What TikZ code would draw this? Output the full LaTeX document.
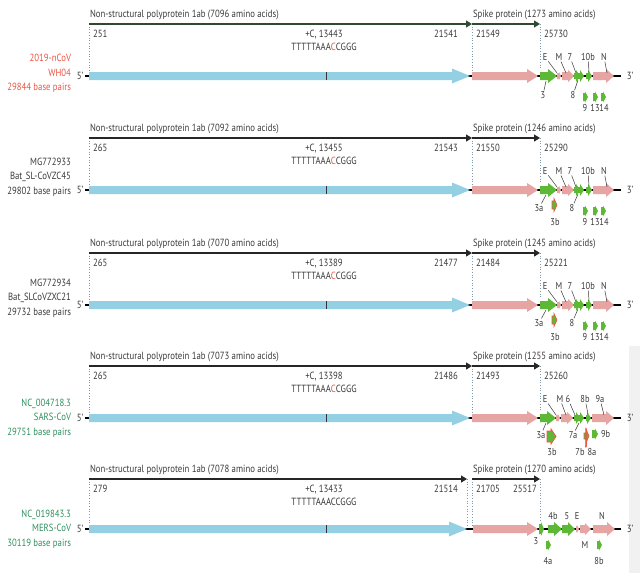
\documentclass[tikz,border=0pt]{standalone}
\usepackage{fontspec}
\setmainfont{PT Sans}[FakeStretch=0.84]
\usetikzlibrary{arrows.meta}
\definecolor{cblue}{HTML}{93D0E4}
\definecolor{cpink}{HTML}{E6A4A2}
\definecolor{cgreen}{HTML}{5DB935}
\definecolor{cred}{HTML}{EE5444}
\definecolor{cgtext}{HTML}{2F8F5E}
\definecolor{cdot}{HTML}{7C9AAA}
\definecolor{cline1}{HTML}{2E4A30}
\definecolor{cline}{HTML}{262626}
\definecolor{ctext}{HTML}{3A3A3A}
\definecolor{cstrip}{HTML}{F1F1F1}
\newcommand{\gene}[7]{\fill[#7] (#1,#3-#4) -- (#2-#6,#3-#4) -- (#2-#6,#3-#5) -- (#2,#3) -- (#2-#6,#3+#5) -- (#2-#6,#3+#4) -- (#1,#3+#4) -- cycle;}
\newcommand{\lab}[6]{\node[glbl] (#1) at (#2,#3) {#4}; \coordinate (#1t) at (#5,#6); \draw[lead] (#1) -- (#1t);}
\newcommand{\labn}[4]{\node[glbl] (#1) at (#2,#3) {#4};}
\newcommand{\seqtxt}{TTTTTAAA\textcolor{cred}{C}CGGG}
\newcommand{\toppart}[9]{%
 \coordinate (#1a0) at (89,24);
 \coordinate (#1a1) at (472,24);
 \coordinate (#1b1) at (540,24);
 \node[lbl,anchor=base west] (#1nsp) at (89,17) {Non-structural polyprotein 1ab (#3 amino acids)};
 \node[lbl,anchor=base west] (#1spk) at (472,17) {Spike protein (#4 amino acids)};
 \draw[dotln] (#1a0) -- ++(0,48);
 \draw[dotln] (#1a1) -- ++(0,48);
 \draw[dotln] (#1b1) -- ++(0,45);
 \draw[topln,#2] (#1a0) -- (#1a1);
 \draw[topln,#2] (#1a1) -- (#1b1);
 \node[lbl,anchor=base west] (#1n0) at (92,37) {#5};
 \node[lbl,anchor=base] (#1nc) at (324,37) {+C, #6};
 \node[lbl,anchor=base] (#1seq) at (324,50) {\seqtxt};
 \node[lbl,anchor=base east] (#1n1) at (459,37) {#7};
 \node[lbl,anchor=base west] (#1n2) at (475,37) {#8};
 \node[lbl,anchor=base west] (#1n3) at (543,37) {#9};
 \draw[bb] (85,76) -- (89,76);
 \draw[bb] (466,76) -- (621,76);
 \gene{89}{470}{76}{4}{7.5}{18}{cblue}
 \draw[line width=0.8pt,black!80] (326,72) -- (326,80);
 \gene{472}{538}{76}{4}{7}{11}{cpink}
 \node[lbl] (#1five) at (80,76) {5’};
 \node[lbl] (#1three) at (630,76) {3’};
}
\begin{document}
\begin{tikzpicture}[x=1pt,y=-1pt,
  every node/.style={inner sep=0pt,outer sep=1pt},
  lbl/.style={font=\fontsize{10.4}{12}\selectfont,text=ctext},
  glbl/.style={font=\fontsize{10}{11}\selectfont,text=ctext},
  namelbl/.style={font=\fontsize{10.4}{14.5}\selectfont,align=right,anchor=east},
  topln/.style={line width=1.2pt,-{Triangle[length=6pt,width=7pt]}},
  dotln/.style={cdot,dotted,line width=0.7pt},
  lead/.style={ctext,line width=0.5pt},
  redlead/.style={cred,line width=0.7pt},
  bb/.style={line width=1.6pt,black}]
\useasboundingbox (0,0) rectangle (640,573);
\fill[white] (0,0) rectangle (640,573);
\fill[cstrip] (629,346) rectangle (640,573);

% ---------- Panel 1: 2019-nCoV
\begin{scope}
\toppart{p1}{cline1}{7096}{1273}{251}{13443}{21541}{21549}{25730}
\node[namelbl,text=cred] (p1name) at (72,73.5) {2019-nCoV\\WH04\\29844 base pairs};
\gene{540}{557}{76}{4}{7}{9}{cgreen}
\gene{557}{561}{76}{3}{4}{2}{cpink}
\gene{562}{574}{76}{4}{6}{6}{cpink}
\gene{574}{580}{76}{3}{6}{4}{cgreen}
\gene{578}{584}{76}{3}{6}{4}{cgreen}
\gene{586}{592}{76}{3}{6}{4}{cgreen}
\gene{593}{614}{76}{4}{7}{8}{cpink}
\lab{p1E}{545}{57}{E}{557}{73}
\lab{p1M}{559}{57}{M}{566}{73}
\lab{p1g7}{570}{57}{7}{576}{73}
\lab{p1g10}{588}{57}{10b}{589}{72}
\lab{p1N}{604}{57}{N}{607}{73}
\lab{p1g3}{543}{95}{3}{546}{81}
\lab{p1g8}{573}{95}{8}{578}{80}
\gene{583}{588}{97}{4}{5.5}{3}{cgreen}
\gene{593}{598}{97}{4}{5.5}{3}{cgreen}
\gene{601}{606}{97}{4}{5.5}{3}{cgreen}
\labn{p1g9}{585}{108}{9}
\labn{p1g13}{595}{108}{13}
\labn{p1g14}{604}{108}{14}
\end{scope}

% ---------- Panel 2: ZC45
\begin{scope}[shift={(0,114)}]
\toppart{p2}{cline}{7092}{1246}{265}{13455}{21543}{21550}{25290}
\node[namelbl,text=ctext] (p2name) at (72,63) {MG772933\\Bat\_SL-CoVZC45\\29802 base pairs};
\gene{540}{557}{76}{4}{7}{9}{cgreen}
\gene{557}{561}{76}{3}{4}{2}{cpink}
\gene{562}{574}{76}{4}{6}{6}{cpink}
\gene{574}{580}{76}{3}{6}{4}{cgreen}
\gene{578}{584}{76}{3}{6}{4}{cgreen}
\gene{586}{592}{76}{3}{6}{4}{cgreen}
\gene{593}{614}{76}{4}{7}{8}{cpink}
\lab{p2E}{545}{57}{E}{557}{73}
\lab{p2M}{559}{57}{M}{566}{73}
\lab{p2g7}{570}{57}{7}{576}{73}
\lab{p2g10}{588}{57}{10b}{589}{72}
\lab{p2N}{604}{57}{N}{607}{73}
\lab{p2g3}{539}{94}{3a}{546}{81}
\gene{552}{557}{91}{4}{6.5}{3}{fill=cgreen,draw=cred,line width=0.6pt}
\labn{p2g3b}{555}{108}{3b}
\lab{p2g8}{572}{94}{8}{578}{80}
\gene{583}{588}{97}{4}{5.5}{3}{cgreen}
\gene{593}{598}{97}{4}{5.5}{3}{cgreen}
\gene{601}{606}{97}{4}{5.5}{3}{cgreen}
\labn{p2g9}{585}{108}{9}
\labn{p2g13}{595}{108}{13}
\labn{p2g14}{604}{108}{14}
\end{scope}

% ---------- Panel 3: ZXC21
\begin{scope}[shift={(0,229)}]
\toppart{p3}{cline}{7070}{1245}{265}{13389}{21477}{21484}{25221}
\node[namelbl,text=ctext] (p3name) at (72,69) {MG772934\\Bat\_SLCoVZXC21\\29732 base pairs};
\gene{540}{557}{76}{4}{7}{9}{cgreen}
\gene{557}{561}{76}{3}{4}{2}{cpink}
\gene{562}{574}{76}{4}{6}{6}{cpink}
\gene{574}{580}{76}{3}{6}{4}{cgreen}
\gene{578}{584}{76}{3}{6}{4}{cgreen}
\gene{586}{592}{76}{3}{6}{4}{cgreen}
\gene{593}{614}{76}{4}{7}{8}{cpink}
\lab{p3E}{545}{57}{E}{557}{73}
\lab{p3M}{559}{57}{M}{566}{73}
\lab{p3g7}{570}{57}{7}{576}{73}
\lab{p3g10}{588}{57}{10b}{589}{72}
\lab{p3N}{604}{57}{N}{607}{73}
\lab{p3g3}{539}{94}{3a}{546}{81}
\gene{552}{557}{91}{4}{6.5}{3}{fill=cgreen,draw=cred,line width=0.6pt}
\labn{p3g3b}{555}{108}{3b}
\lab{p3g8}{572}{94}{8}{578}{80}
\gene{583}{588}{97}{4}{5.5}{3}{cgreen}
\gene{593}{598}{97}{4}{5.5}{3}{cgreen}
\gene{601}{606}{97}{4}{5.5}{3}{cgreen}
\labn{p3g9}{585}{108}{9}
\labn{p3g13}{595}{108}{13}
\labn{p3g14}{604}{108}{14}
\end{scope}

% ---------- Panel 4: SARS-CoV
\begin{scope}[shift={(0,342)}]
\toppart{p4}{cline}{7073}{1255}{265}{13398}{21486}{21493}{25260}
\node[namelbl,text=cgtext] (p4name) at (72,76) {NC\_004718.3\\SARS-CoV\\29751 base pairs};
\gene{540}{556}{76}{4}{7}{9}{cgreen}
\gene{556}{560}{76}{3}{4}{2}{cpink}
\gene{561}{573}{76}{4}{6}{6}{cpink}
\gene{574}{580}{76}{3}{6}{4}{cgreen}
\gene{578}{584}{76}{3}{6}{4}{cgreen}
\gene{586}{591}{76}{3}{6}{4}{cgreen}
\gene{592}{614}{76}{4}{7}{8}{cpink}
\lab{p4E}{545}{57}{E}{556}{73}
\lab{p4M}{560}{57}{M}{566}{73}
\lab{p4g6}{568}{57}{6}{575}{73}
\lab{p4g8b}{585}{57}{8b}{588}{72}
\lab{p4g9a}{600}{57}{9a}{604}{73}
\lab{p4g3a}{541}{93}{3a}{546}{81}
\gene{547}{556}{94.5}{5.5}{7.5}{5}{fill=cgreen,draw=cred,line width=0.7pt}
\labn{p4g3b}{552}{110}{3b}
\lab{p4g7a}{573}{93}{7a}{579}{81}
\gene{584}{589}{94}{3}{7}{3}{fill=cgreen,draw=cred,line width=0.6pt}
\node[glbl] (p4g7b) at (580,110) {7b};
\node[glbl] (p4g8a) at (592,110) {8a};
\coordinate (p4rt) at (586,86);
\draw[redlead] (p4g7b.north east) -- (p4rt);
\draw[redlead] (p4g8a.north west) -- (p4rt);
\gene{592}{598}{92}{4}{5.5}{3}{cgreen}
\node[glbl,anchor=west] (p4g9b) at (600,92) {9b};
\end{scope}

% ---------- Panel 5: MERS-CoV
\begin{scope}[shift={(0,454)}]
\renewcommand{\seqtxt}{TTTTTAAACCGGG}
\coordinate (p5a0) at (89,25);
\coordinate (p5a1) at (467,25);
\coordinate (p5b0) at (472,25);
\coordinate (p5b1) at (540,25);
\node[lbl,anchor=base west] (p5nsp) at (89,18) {Non-structural polyprotein 1ab (7078 amino acids)};
\node[lbl,anchor=base west] (p5spk) at (472,18) {Spike protein (1270 amino acids)};
\draw[dotln] (p5a0) -- ++(0,46);
\draw[dotln] (p5a1) -- ++(0,46);
\draw[dotln] (p5b0) -- ++(0,46);
\draw[dotln] (p5b1) -- ++(0,43);
\draw[topln,cline] (p5a0) -- (p5a1);
\draw[topln,cline] (p5b0) -- (p5b1);
\node[lbl,anchor=base west] (p5n0) at (92,38) {279};
\node[lbl,anchor=base] (p5nc) at (324,38) {+C, 13433};
\node[lbl,anchor=base] (p5seq) at (324,51) {\seqtxt};
\node[lbl,anchor=base east] (p5n1) at (459,38) {21514};
\node[lbl,anchor=base west] (p5n2) at (475,38) {21705};
\node[lbl,anchor=base east] (p5n3) at (538,38) {25517};
\node[namelbl,text=cgtext] (p5name) at (72,75) {NC\_019843.3\\MERS-CoV\\30119 base pairs};
\draw[bb] (85,75) -- (89,75);
\draw[bb] (464,75) -- (621,75);
\gene{89}{467}{75}{4}{7.5}{18}{cblue}
\draw[line width=0.8pt,black!80] (326,71) -- (326,79);
\gene{473}{538}{75}{4}{7}{11}{cpink}
\node[lbl] (p5five) at (80,75) {5’};
\node[lbl] (p5three) at (630,75) {3’};
\gene{539}{544}{75}{5}{7}{3}{cgreen}
\gene{548}{562}{75}{4}{7}{8}{cgreen}
\gene{562}{575}{75}{4}{7}{7}{cgreen}
\gene{576}{579}{75}{3}{4}{2}{cpink}
\gene{580}{591}{75}{4}{6}{6}{cpink}
\gene{593}{615}{75}{4}{7}{8}{cpink}
\labn{p5g4b}{553}{62}{4b}
\labn{p5g5}{567}{62}{5}
\labn{p5E}{577}{62}{E}
\labn{p5N}{602}{62}{N}
\labn{p5g3}{536}{87}{3}
\labn{p5M}{585}{91}{M}
\gene{546}{551}{91}{4}{5.5}{3}{cgreen}
\gene{597}{602}{91}{4}{5.5}{3}{cgreen}
\labn{p5g4a}{548}{107}{4a}
\labn{p5g8b}{599}{107}{8b}
\end{scope}
\end{tikzpicture}
\end{document}
